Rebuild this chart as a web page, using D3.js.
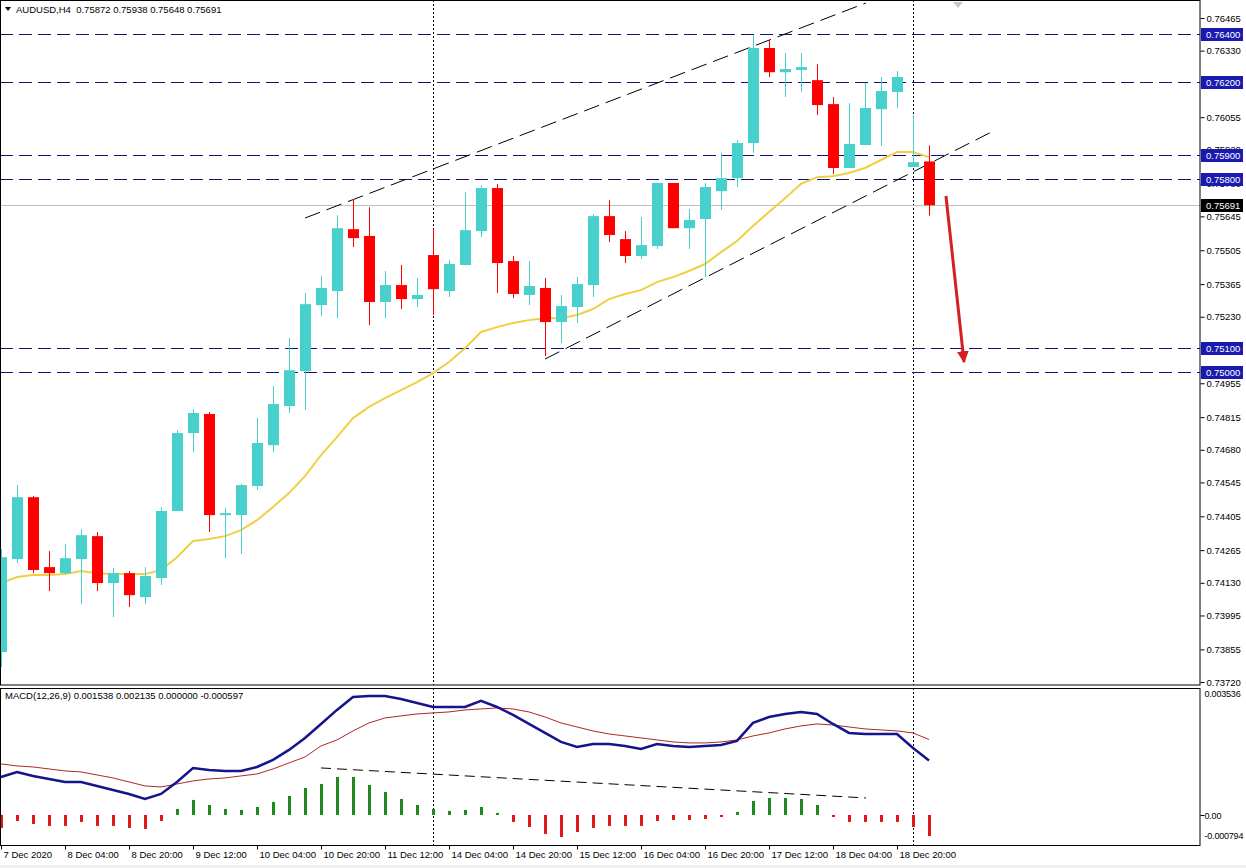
<!DOCTYPE html>
<html><head><meta charset="utf-8">
<script src="https://cdn.jsdelivr.net/npm/d3@7"></script>
<style>
html,body{margin:0;padding:0;background:#fff;}
svg{display:block;font-family:"Liberation Sans",Arial,sans-serif;}
</style></head><body>
<svg id="c" width="1246" height="868"></svg>
<script>
// ---------- DATA ----------
const symbolTitle = "AUDUSD,H4";
const lastBar = { open: 0.75872, high: 0.75938, low: 0.75648, close: 0.75691 };
const candleOpen = [0.73844,0.74228,0.74484,0.74195,0.74170,0.74228,0.74323,0.74129,0.74170,0.74071,
  0.74150,0.74427,0.74749,0.74828,0.74410,0.74410,0.74530,0.74699,0.74861,0.75005,
  0.75278,0.75336,0.75592,0.75564,0.75291,0.75361,0.75303,0.75485,0.75336,0.75444,
  0.75584,0.75762,0.75460,0.75320,0.75349,0.75208,0.75270,0.75361,0.75646,0.75551,
  0.75481,0.75522,0.75783,0.75596,0.75634,0.75749,0.75803,0.75948,0.76341,0.76241,
  0.76250,0.76208,0.76109,0.75845,0.75940,0.76088,0.76159,0.75849,0.75872];
const candleHigh = [0.74269,0.74534,0.74489,0.74261,0.74290,0.74352,0.74340,0.74191,0.74179,0.74195,
  0.74443,0.74761,0.74848,0.74836,0.74439,0.74538,0.74811,0.74943,0.75142,0.75328,
  0.75398,0.75650,0.75716,0.75683,0.75419,0.75444,0.75390,0.75592,0.75465,0.75745,
  0.75774,0.75779,0.75481,0.75460,0.75390,0.75320,0.75394,0.75654,0.75712,0.75584,
  0.75642,0.75783,0.75783,0.75675,0.75783,0.75907,0.75960,0.76394,0.76374,0.76320,
  0.76320,0.76274,0.76138,0.76113,0.76196,0.76221,0.76246,0.76064,0.75938];
const candleLow = [0.73782,0.74212,0.74170,0.74096,0.74166,0.74042,0.74096,0.73988,0.74030,0.74042,
  0.74121,0.74427,0.74670,0.74340,0.74232,0.74249,0.74513,0.74670,0.74832,0.74844,
  0.75233,0.75224,0.75518,0.75195,0.75224,0.75262,0.75270,0.75237,0.75311,0.75444,
  0.75559,0.75328,0.75307,0.75278,0.75067,0.75121,0.75204,0.75311,0.75539,0.75452,
  0.75469,0.75510,0.75596,0.75510,0.75394,0.75671,0.75766,0.75907,0.76221,0.76138,
  0.76159,0.76064,0.75820,0.75845,0.75940,0.75935,0.76093,0.75849,0.75648];
const candleClose = [0.74236,0.74484,0.74183,0.74170,0.74232,0.74327,0.74129,0.74170,0.74079,0.74158,
  0.74427,0.74749,0.74832,0.74410,0.74418,0.74534,0.74708,0.74869,0.75009,0.75282,
  0.75349,0.75596,0.75555,0.75291,0.75361,0.75303,0.75320,0.75344,0.75448,0.75588,
  0.75762,0.75452,0.75324,0.75357,0.75208,0.75274,0.75365,0.75646,0.75568,0.75481,
  0.75526,0.75783,0.75596,0.75630,0.75766,0.75803,0.75948,0.76341,0.76241,0.76254,
  0.76262,0.76105,0.75845,0.75944,0.76093,0.76163,0.76221,0.75869,0.75691];
const maValues = [0.74129,0.74154,0.74162,0.74162,0.74166,0.74179,0.74170,0.74166,0.74166,0.74166,
  0.74183,0.74236,0.74303,0.74311,0.74323,0.74348,0.74389,0.74443,0.74501,0.74571,
  0.74658,0.74732,0.74811,0.74857,0.74894,0.74927,0.74960,0.74997,0.75043,0.75100,
  0.75167,0.75187,0.75204,0.75216,0.75224,0.75224,0.75237,0.75262,0.75303,0.75324,
  0.75340,0.75373,0.75394,0.75419,0.75448,0.75497,0.75543,0.75605,0.75663,0.75720,
  0.75779,0.75807,0.75811,0.75824,0.75845,0.75878,0.75911,0.75911,0.75890];
const macdMain = [0.001075,0.001217,0.001104,0.001019,0.000934,0.000934,0.000821,0.000708,0.000594,0.000453,
  0.000594,0.000934,0.001330,0.001274,0.001245,0.001245,0.001358,0.001557,0.001840,0.002179,
  0.002575,0.002972,0.003339,0.003368,0.003368,0.003283,0.003170,0.003056,0.003056,0.003056,
  0.003226,0.003056,0.002830,0.002575,0.002321,0.002066,0.001924,0.002009,0.002009,0.001953,
  0.001868,0.002009,0.001953,0.001924,0.001953,0.001981,0.002094,0.002604,0.002773,0.002858,
  0.002915,0.002858,0.002575,0.002321,0.002292,0.002292,0.002292,0.001896,0.001538];
const macdSignal = [0.001443,0.001387,0.001358,0.001302,0.001245,0.001217,0.001132,0.001047,0.000934,0.000821,
  0.000792,0.000877,0.000962,0.001019,0.001047,0.001104,0.001160,0.001302,0.001472,0.001641,
  0.001953,0.002123,0.002377,0.002604,0.002745,0.002802,0.002858,0.002887,0.002915,0.002972,
  0.003000,0.003028,0.003000,0.002915,0.002773,0.002604,0.002490,0.002377,0.002292,0.002236,
  0.002179,0.002123,0.002066,0.002038,0.002038,0.002066,0.002123,0.002236,0.002321,0.002434,
  0.002519,0.002575,0.002547,0.002490,0.002434,0.002406,0.002377,0.002321,0.002135];
const macdHist = [-0.000368,-0.000170,-0.000255,-0.000311,-0.000311,-0.000198,-0.000311,-0.000311,-0.000368,-0.000396,
  -0.000170,0.000170,0.000425,0.000283,0.000170,0.000142,0.000226,0.000368,0.000538,0.000764,
  0.000877,0.001075,0.001075,0.000849,0.000651,0.000453,0.000283,0.000170,0.000113,0.000142,
  0.000226,0.000057,-0.000198,-0.000340,-0.000538,-0.000623,-0.000481,-0.000368,-0.000311,-0.000311,
  -0.000311,-0.000170,-0.000142,-0.000142,-0.000113,-0.000057,0.000085,0.000396,0.000481,0.000481,
  0.000453,0.000283,-0.000057,-0.000198,-0.000198,-0.000198,-0.000198,-0.000340,-0.000597];
const macdTitle = "MACD(12,26,9) 0.001538 0.002135 0.000000 -0.000597";
const levelPrices = [0.76400,0.76200,0.75900,0.75800,0.75100,0.75000];
const currentPrice = 0.75691;
const priceTicks = [0.76465,0.76330,0.76055,0.75920,0.75780,0.75645,0.75505,0.75365,0.75230,
  0.74955,0.74815,0.74680,0.74545,0.74405,0.74265,0.74130,0.73995,0.73855,0.73720];
const macdTicks = [0.003536,0.0,-0.000794];
const macdTickLabels = ["0.003536","0.00","-0.000794"];
const timeLabels = ["7 Dec 2020","8 Dec 04:00","8 Dec 20:00","9 Dec 12:00","10 Dec 04:00","10 Dec 20:00",
  "11 Dec 12:00","14 Dec 04:00","14 Dec 20:00","15 Dec 12:00","16 Dec 04:00","16 Dec 20:00",
  "17 Dec 12:00","18 Dec 04:00","18 Dec 20:00"];
const timeLabelBars = [0,4,8,12,16,20,24,28,32,36,40,44,48,52,56];
const weekSeparatorBars = [27,57];
// trend lines as [barIndex, value] endpoints
const upperChannel = [[19,0.75638],[54.06,0.76527]];
const lowerChannel = [[34,0.75055],[62,0.75997]];
const macdTrend = [[20,0.00133],[54.06,0.000481]];
const forecastArrow = [[59.06,0.75729],[60.19,0.75043]];

// ---------- LAYOUT ----------
const W=1246,H=868;
const plotL=0, plotR=1200, mainT=0, mainB=685, macdT=688, macdB=845;
const bull="#48D1CC", bear="#FF0000", levelCol="#12127A", boxCol="#1A1AB0";

const svg=d3.select("#c");
svg.append("rect").attr("width",W).attr("height",H).attr("fill","#fff");
svg.append("rect").attr("x",0).attr("y",865).attr("width",W).attr("height",3).attr("fill","#f0f0f0");

const x=d3.scaleLinear().domain([0,58]).range([1,929]);
const y=d3.scaleLinear().domain([0.73720,0.76465]).range([682,18]);
const ym=d3.scaleLinear().domain([-0.000794,0.003536]).range([843,690]);

const defs=svg.append("defs");
defs.append("clipPath").attr("id","clipMain").append("rect").attr("x",plotL).attr("y",mainT).attr("width",plotR-plotL).attr("height",mainB-mainT);
defs.append("clipPath").attr("id","clipMacd").append("rect").attr("x",plotL).attr("y",macdT).attr("width",plotR-plotL).attr("height",macdB-macdT);

const gMain=svg.append("g").attr("clip-path","url(#clipMain)");
const gMacd=svg.append("g").attr("clip-path","url(#clipMacd)");

// week separators
weekSeparatorBars.forEach(b=>{
  const xx=Math.round(x(b))+0.5;
  gMain.append("line").attr("x1",xx).attr("x2",xx).attr("y1",mainT).attr("y2",mainB)
    .attr("stroke","#000").attr("stroke-width",1).attr("stroke-dasharray","2,2");
  gMacd.append("line").attr("x1",xx).attr("x2",xx).attr("y1",macdT).attr("y2",macdB)
    .attr("stroke","#000").attr("stroke-width",1).attr("stroke-dasharray","2,2");
});

// current price line
gMain.append("line").attr("x1",plotL).attr("x2",plotR)
  .attr("y1",Math.round(y(currentPrice))+0.5).attr("y2",Math.round(y(currentPrice))+0.5)
  .attr("stroke","#c0c0c0").attr("stroke-width",1);

// horizontal levels
levelPrices.forEach(p=>{
  const yy=Math.round(y(p))+0.5;
  gMain.append("line").attr("x1",plotL).attr("x2",plotR).attr("y1",yy).attr("y2",yy)
    .attr("stroke",levelCol).attr("stroke-width",1).attr("stroke-dasharray","13,6");
});

// trend lines
function tline(g,pts,ys,dash){
  g.append("line").attr("x1",x(pts[0][0])).attr("y1",ys(pts[0][1]))
    .attr("x2",x(pts[1][0])).attr("y2",ys(pts[1][1]))
    .attr("stroke","#000").attr("stroke-width",1).attr("stroke-dasharray",dash);
}
tline(gMain,upperChannel,y,"16,7");
tline(gMain,lowerChannel,y,"16,7");

// MA line
gMain.append("path").datum(maValues)
  .attr("d",d3.line().x((d,i)=>x(i)).y(d=>y(d)).curve(d3.curveLinear))
  .attr("fill","none").attr("stroke","#EFD043").attr("stroke-width",2);

// candles
const idx=d3.range(candleOpen.length);
const cg=gMain.append("g");
cg.selectAll("line.wick").data(idx).join("line")
  .attr("x1",i=>Math.round(x(i))+0.5).attr("x2",i=>Math.round(x(i))+0.5)
  .attr("y1",i=>y(candleHigh[i])).attr("y2",i=>y(candleLow[i]))
  .attr("stroke",i=>candleClose[i]>=candleOpen[i]?bull:bear).attr("stroke-width",1);
cg.selectAll("rect.body").data(idx).join("rect")
  .attr("x",i=>Math.round(x(i))-5).attr("width",11)
  .attr("y",i=>y(Math.max(candleOpen[i],candleClose[i])))
  .attr("height",i=>Math.max(1.5,Math.abs(y(candleOpen[i])-y(candleClose[i]))))
  .attr("fill",i=>candleClose[i]>=candleOpen[i]?bull:bear);

// forecast arrow
defs.append("marker").attr("id","arr").attr("viewBox","0 0 10 10").attr("refX",9).attr("refY",5)
  .attr("markerWidth",4).attr("markerHeight",4).attr("orient","auto")
  .append("path").attr("d","M0,0 L10,5 L0,10 z").attr("fill","#D42020");
gMain.append("line").attr("x1",x(forecastArrow[0][0])).attr("y1",y(forecastArrow[0][1]))
  .attr("x2",x(forecastArrow[1][0])).attr("y2",y(forecastArrow[1][1]))
  .attr("stroke","#D42020").attr("stroke-width",3).attr("marker-end","url(#arr)");

// shift marker
svg.append("path").attr("d","M953,2 L963,2 L958,8 Z").attr("fill","#c8c8c8");

// MACD panel
gMacd.selectAll("rect.h").data(idx).join("rect")
  .attr("x",i=>Math.round(x(i))-1).attr("width",3)
  .attr("y",i=>Math.min(ym(0),ym(macdHist[i])))
  .attr("height",i=>Math.abs(ym(macdHist[i])-ym(0)))
  .attr("fill",i=>macdHist[i]>=0?"#1E8A1E":"#E01818");
tline(gMacd,macdTrend,ym,"10,6");
gMacd.append("path").datum(macdSignal)
  .attr("d",d3.line().x((d,i)=>x(i)).y(d=>ym(d)))
  .attr("fill","none").attr("stroke","#B02828").attr("stroke-width",1);
gMacd.append("path").datum(macdMain)
  .attr("d",d3.line().x((d,i)=>x(i)).y(d=>ym(d)))
  .attr("fill","none").attr("stroke","#14148C").attr("stroke-width",2.5);

// frames
svg.append("rect").attr("x",0.5).attr("y",0.5).attr("width",plotR-0.5).attr("height",mainB-0.5)
  .attr("fill","none").attr("stroke","#000");
svg.append("rect").attr("x",0.5).attr("y",macdT+0.5).attr("width",plotR-0.5).attr("height",macdB-macdT)
  .attr("fill","none").attr("stroke","#000");

// titles
svg.append("path").attr("d","M5,7 L11,7 L8,11 Z").attr("fill","#000");
svg.append("text").attr("x",16).attr("y",13).attr("font-size",9.5).attr("fill","#000")
  .text(symbolTitle+"  "+[lastBar.open,lastBar.high,lastBar.low,lastBar.close].map(d3.format(".5f")).join(" "))
  .attr("xml:space","preserve").style("white-space","pre");
svg.append("text").attr("x",5).attr("y",699).attr("font-size",9.5).attr("fill","#000").text(macdTitle);

// right price axis
const yAxis=d3.axisRight(y).tickValues(priceTicks).tickFormat(d3.format(".5f")).tickSize(4).tickPadding(2);
const ga=svg.append("g").attr("transform",`translate(${plotR+0.5},0)`).call(yAxis);
ga.select(".domain").remove();
ga.selectAll("text").attr("font-size",9.5).attr("font-family","Liberation Sans, Arial, sans-serif").attr("fill","#000");
ga.selectAll("line").attr("stroke","#000");

// level boxes
function priceBox(p,fill){
  const yy=Math.round(y(p));
  const g=svg.append("g");
  g.append("rect").attr("x",plotR+1).attr("y",yy-6).attr("width",42).attr("height",13).attr("fill",fill);
  g.append("text").attr("x",plotR+6).attr("y",yy+3.5).attr("font-size",9.5).attr("fill","#fff").text(d3.format(".5f")(p));
}
levelPrices.forEach(p=>priceBox(p,boxCol));
priceBox(currentPrice,"#000");

// MACD axis
const gm=svg.append("g").attr("transform",`translate(${plotR+0.5},0)`);
macdTicks.forEach((v,k)=>{
  const yy=Math.round(ym(v));
  const ty = k===0? 697 : (k===2? 839 : yy+3.5);
  if(k===1) gm.append("line").attr("x1",0).attr("x2",4).attr("y1",yy+0.5).attr("y2",yy+0.5).attr("stroke","#000");
  gm.append("text").attr("x",4).attr("y",ty).attr("font-size",9).attr("letter-spacing",-0.2).attr("fill","#000").text(macdTickLabels[k]);
});

// bottom time axis
const xAxis=d3.axisBottom(x).tickValues(timeLabelBars).tickFormat((d,k)=>timeLabels[k]).tickSize(4).tickPadding(2);
const gx=svg.append("g").attr("transform",`translate(0,${macdB+0.5})`).call(xAxis);
gx.select(".domain").remove();
gx.selectAll("text").attr("font-size",9.5).attr("font-family","Liberation Sans, Arial, sans-serif")
  .attr("text-anchor","start").attr("dx",2).attr("fill","#000");
gx.selectAll("line").attr("stroke","#000");
</script>
</body></html>
